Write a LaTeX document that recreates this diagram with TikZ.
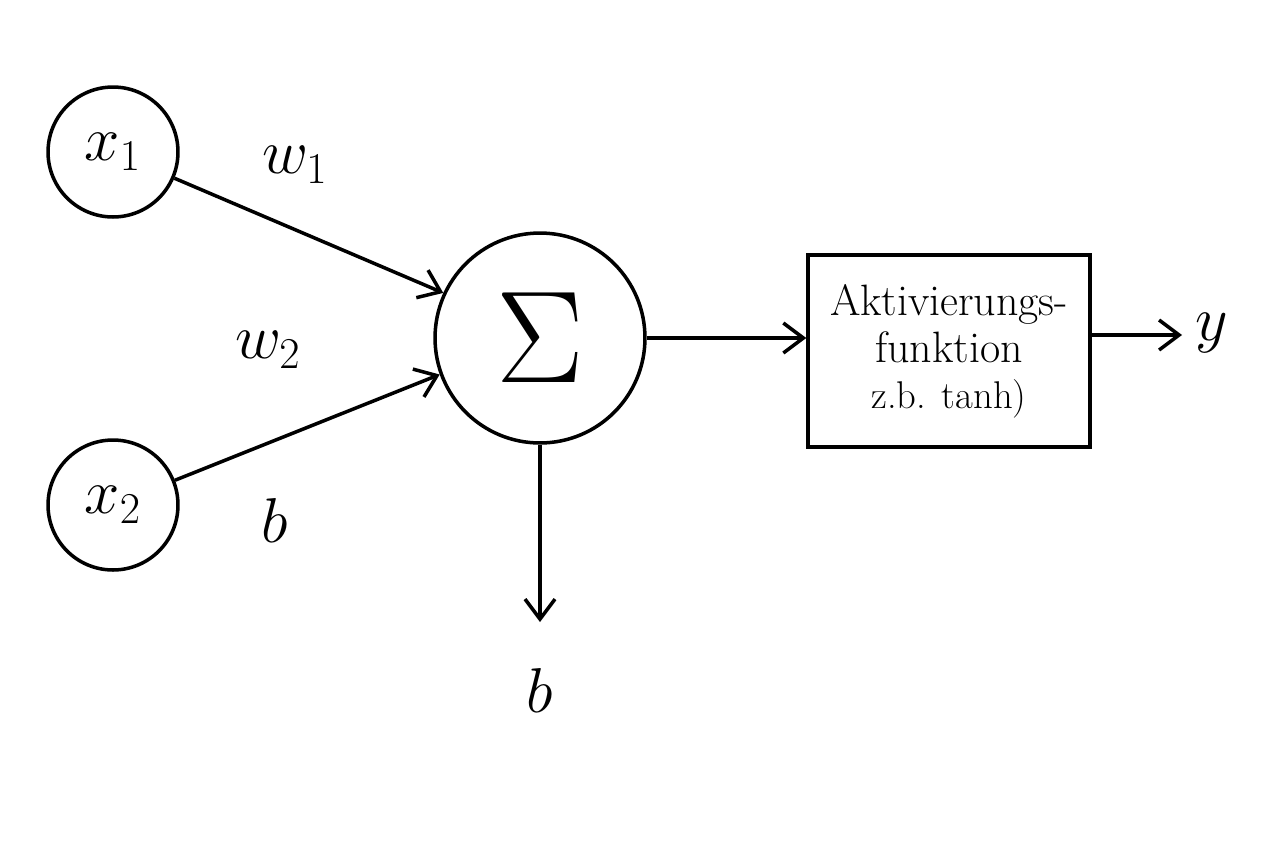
\documentclass[tikz,border=0pt]{standalone}
\usepackage{amsmath}
\usepackage{graphicx}
\usepackage{tikz}
\usetikzlibrary{positioning,arrows.meta}

\newcommand{\mlabel}[1]{\scalebox{1.45}{$#1$}}

\begin{document}
\begin{tikzpicture}[x=0.02cm,y=-0.02cm,line width=2pt,
	neuron/.style={circle,draw,minimum size=2.6cm,inner sep=0pt,font=\fontsize{24}{28}\selectfont},
	link/.style={-{Straight Barb[length=4mm,width=6mm]}},
	lbl/.style={font=\fontsize{24}{28}\selectfont}]
	\useasboundingbox (0,0) rectangle (1280,853);

	\node[neuron] (xa) at (113,152) {\mlabel{x_1}};
	\node[neuron] (xb) at (113,505) {\mlabel{x_2}};
	\node[neuron,minimum size=4.2cm] (sum) at (540,338) {\scalebox{3}{$\Sigma$}};
	\node[draw,minimum width=5.64cm,minimum height=3.84cm,align=center,
		font=\fontsize{25}{27}\selectfont] (act) at (949,351)
		{Aktivierungs-\\funktion\\[-1pt]{\fontsize{22}{26}\selectfont z.b. tanh)}};

	\coordinate (bend) at (540,622);
	\coordinate (yend) at (1182,335);

	\draw[link] (xa) -- (sum.155);
	\draw[link] (xb) -- (sum.200);
	\draw[link] (sum.east) -- (act.west |- sum.east);
	\draw[link] (act.east |- yend) -- (yend);
	\draw[link] (sum.south) -- (bend);

%	labels
	\node[lbl] (wa) at (295,165) {\mlabel{w_1}};
	\node[lbl] (wb) at (268,350) {\mlabel{w_2}};
	\node[lbl] (ba) at (275,520) {\mlabel{b}};
	\node[lbl] (bb) at (540,690) {\mlabel{b}};
	\node[lbl] (y) at (1212,333) {\mlabel{y}};
\end{tikzpicture}
\end{document}
